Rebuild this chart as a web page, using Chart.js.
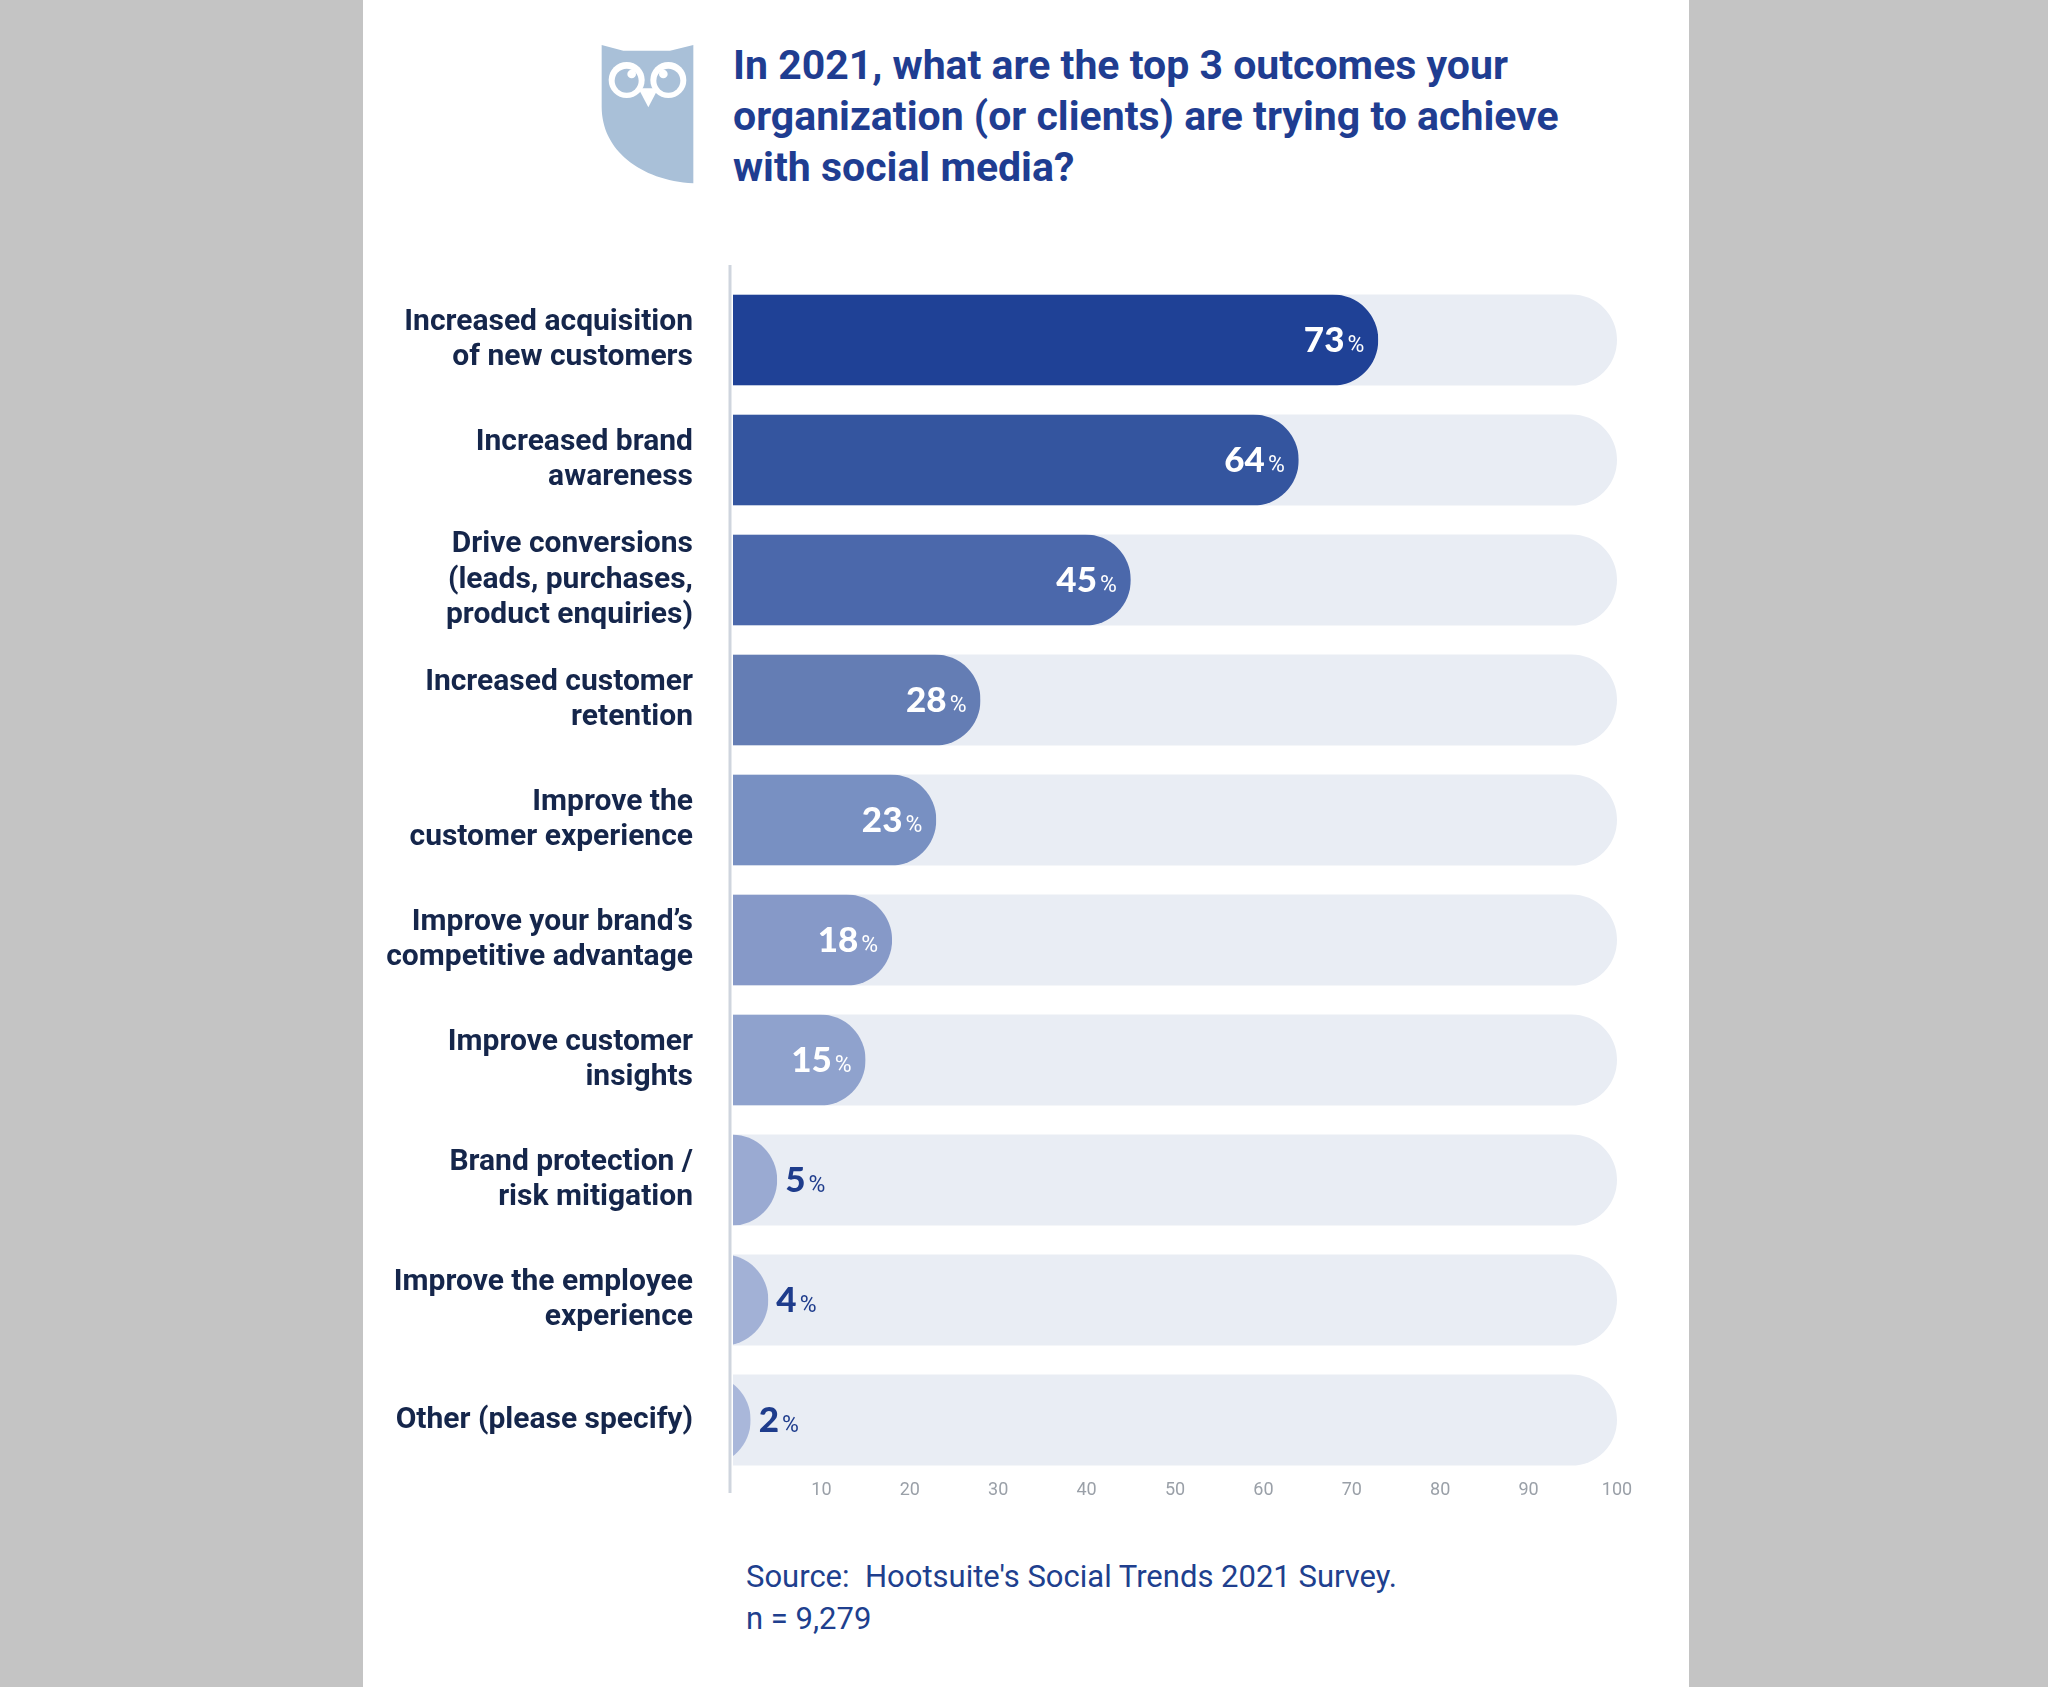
<!DOCTYPE html>
<html lang="en">
<head>
  <meta charset="UTF-8" />
  <title>Top 3 social media outcomes 2021</title>
  <script src="https://cdn.jsdelivr.net/npm/chart.js"></script>
  <style>
    body { margin: 0; background: #c4c4c4; width: 2048px; height: 1687px; position: relative; overflow: hidden; }
    .panel { position: absolute; left: 363px; top: 0; width: 1326px; height: 1687px; background: #fff; }
    .owl { position: absolute; left: 580px; top: 30px; width: 140px; height: 170px; }
    h1 {
      position: absolute; left: 733px; top: 40px; margin: 0; width: 940px;
      font-family: Roboto, sans-serif; font-weight: bold; font-size: 41px; line-height: 51px;
      color: #1f3d91;
    }
    .box { position: absolute; left: 363px; top: 250px; width: 1326px; height: 1260px; }
    .source {
      position: absolute; left: 746px; top: 1556px; margin: 0;
      font-family: Roboto, sans-serif; font-size: 31px; line-height: 42px; color: #203f8e;
    }
  </style>
</head>
<body>
  <div class="panel"></div>

  <!-- coruja -->
  <svg class="owl" viewBox="0 0 420 510">
    <path d="M65,45 L130,62 L270,62 L340,45 L340,460 C180,450 65,360 65,230 Z" fill="#a9c0d8"/>
    <circle cx="140" cy="150" r="54" fill="#fff"/>
    <circle cx="265" cy="150" r="54" fill="#fff"/>
    <circle cx="140" cy="152" r="36" fill="#a9c0d8"/>
    <circle cx="265" cy="152" r="36" fill="#a9c0d8"/>
    <circle cx="155" cy="132" r="13" fill="#fff"/>
    <circle cx="250" cy="132" r="13" fill="#fff"/>
    <polygon points="175,175 235,175 205,232" fill="#fff"/>
  </svg>

  <h1>In 2021, what are the top 3 outcomes your<br>organization (or clients) are trying to achieve<br>with social media?</h1>

  <div class="box"><canvas id="grafico"></canvas></div>

  <p class="source">Source:&nbsp; Hootsuite's Social Trends 2021 Survey.<br>n = 9,279</p>

  <script>
    const categorias = [
      ["Increased acquisition", "of new customers"],
      ["Increased brand", "awareness"],
      ["Drive conversions", "(leads, purchases,", "product enquiries)"],
      ["Increased customer", "retention"],
      ["Improve the", "customer experience"],
      ["Improve your brand\u2019s", "competitive advantage"],
      ["Improve customer", "insights"],
      ["Brand protection /", "risk mitigation"],
      ["Improve the employee", "experience"],
      ["Other (please specify)"]
    ];
    const valores = [73, 64, 45, 28, 23, 18, 15, 5, 4, 2];
    const fundo = [100, 100, 100, 100, 100, 100, 100, 100, 100, 100];
    const ticksX = [10, 20, 30, 40, 50, 60, 70, 80, 90, 100];
    const cores = ["#1f4196", "#34559f", "#4b68ab", "#647db4", "#7890c2", "#8699c8", "#8fa2cd", "#9aaad2", "#a2b1d6", "#a9b7da"];

    // barras com ponta redonda (semicirculo cortado no eixo)
    const barrasRedondas = {
      id: 'barrasRedondas',
      afterDatasetsDraw(chart) {
        const ctx = chart.ctx;
        const area = chart.chartArea;
        const meta = chart.getDatasetMeta(0);
        const xs = chart.scales.x;

        meta.data.forEach((bar, i) => {
          const p = bar.getProps(['x', 'y', 'base', 'height'], true);
          const r = p.height / 2;
          ctx.save();
          ctx.beginPath();
          ctx.rect(p.base, p.y - r, p.x - p.base, p.height);
          ctx.clip();
          ctx.beginPath();
          ctx.moveTo(p.base - r - 2, p.y - r);
          ctx.lineTo(p.x - r, p.y - r);
          ctx.arc(p.x - r, p.y, r, -Math.PI / 2, Math.PI / 2);
          ctx.lineTo(p.base - r - 2, p.y + r);
          ctx.closePath();
          ctx.fillStyle = cores[i];
          ctx.fill();
          ctx.restore();

          // rotulos
          const v = valores[i];
          const fNum = '900 35px Lato, Roboto, sans-serif';
          const fPct = '23px Roboto, sans-serif';
          ctx.save();
          ctx.textBaseline = 'alphabetic';
          ctx.font = fNum;
          const wNum = ctx.measureText(String(v)).width;
          ctx.font = fPct;
          const wPct = ctx.measureText('%').width;
          const base = p.y + 12;
          let x0;
          if (v >= 10) {
            x0 = p.x - 14 - wPct - 3 - wNum;
            ctx.fillStyle = '#fff';
          } else {
            x0 = p.x + 8;
            ctx.fillStyle = '#1e3c8c';
          }
          ctx.textAlign = 'left';
          ctx.font = fNum;
          ctx.fillText(String(v), x0, base);
          ctx.font = fPct;
          ctx.fillText('%', x0 + wNum + 3, base);
          ctx.restore();
        });

        // linha do eixo
        const x = xs.getPixelForValue(0) - 3;
        ctx.save();
        ctx.strokeStyle = '#cfd5de';
        ctx.lineWidth = 3;
        ctx.beginPath();
        ctx.moveTo(x, area.top - 15);
        ctx.lineTo(x, area.bottom + 13);
        ctx.stroke();
        ctx.restore();
      }
    };

    new Chart(document.getElementById('grafico'), {
      type: 'bar',
      data: {
        labels: categorias,
        datasets: [
          {
            label: 'Valor',
            data: valores,
            backgroundColor: 'rgba(0,0,0,0)',
            grouped: false,
            barPercentage: 0.76,
            categoryPercentage: 1
          },
          {
            label: 'Fundo',
            data: fundo,
            backgroundColor: '#e9edf4',
            grouped: false,
            barPercentage: 0.76,
            categoryPercentage: 1,
            borderRadius: 100,
            borderSkipped: 'start'
          }
        ]
      },
      options: {
        indexAxis: 'y',
        responsive: true,
        maintainAspectRatio: false,
        animation: false,
        layout: { padding: { top: 30, right: 72, bottom: 0, left: 0 } },
        plugins: { legend: { display: false }, tooltip: { enabled: false } },
        scales: {
          x: {
            type: 'linear',
            min: 0,
            max: 100,
            afterBuildTicks: s => { s.ticks = ticksX.map(v => ({ value: v })); },
            afterFit: s => { s.height = 30; s.paddingLeft = 0; s.paddingRight = 0; },
            grid: { display: false, drawTicks: false },
            border: { display: false },
            ticks: { padding: 0, color: '#9aa0a8', font: { family: 'Roboto', size: 18 } }
          },
          y: {
            afterFit: s => { s.width = 370; s.paddingTop = 0; s.paddingBottom = 0; },
            grid: { display: false, drawTicks: false },
            border: { display: false },
            ticks: {
              padding: 40,
              color: '#15264b',
              font: { family: 'Roboto', size: 30, weight: 'bold', lineHeight: 1.18 }
            }
          }
        }
      },
      plugins: [barrasRedondas]
    });
  </script>
</body>
</html>
